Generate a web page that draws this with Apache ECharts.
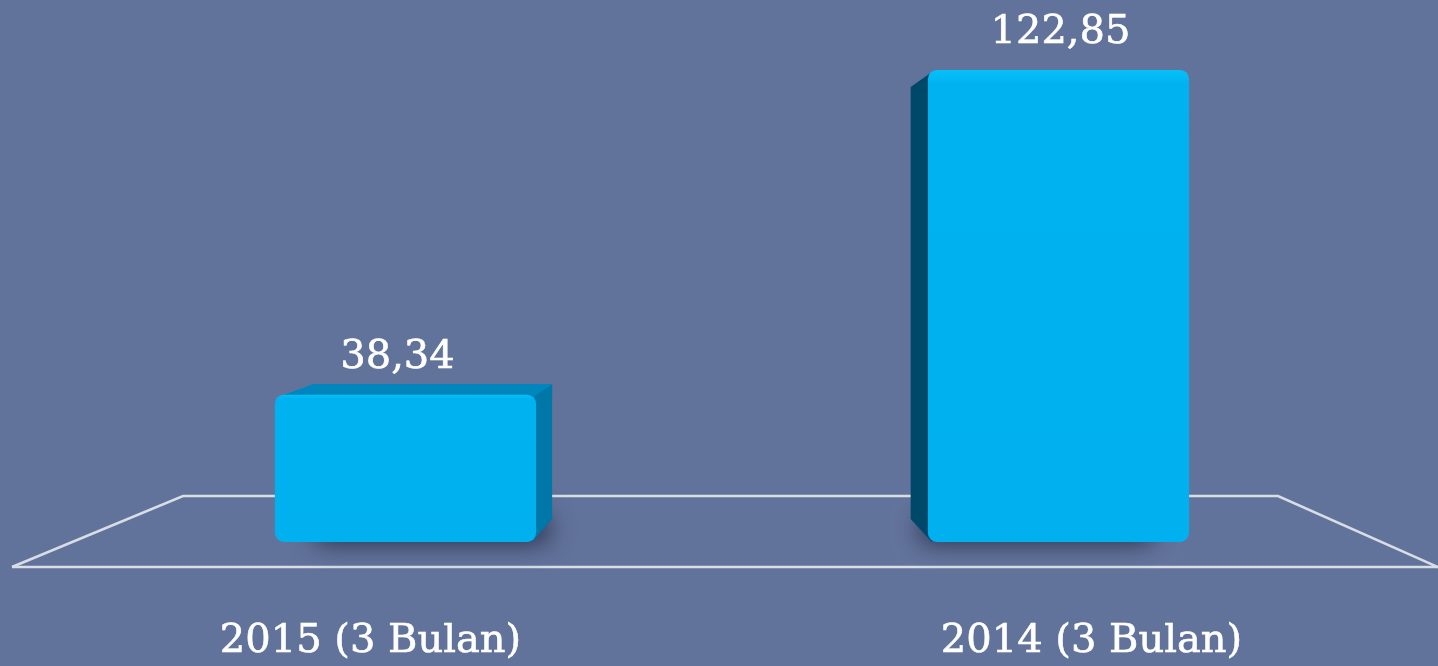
<!DOCTYPE html>
<html>
<head>
<meta charset="utf-8">
<script src="https://cdn.jsdelivr.net/npm/echarts@6/dist/echarts.min.js"></script>
<style>
html,body{margin:0;padding:0;background:#62739b;}
#c{width:1438px;height:666px;}
</style>
</head>
<body>
<div id="c"></div>
<script>
const categories = ['2015 (3 Bulan)', '2014 (3 Bulan)'];
const values = [38.34, 122.85];

const chart = echarts.init(document.getElementById('c'));
const VX = 725, VY = 270, F = 0.085;
function proj(x, y) { return [x + (VX - x) * F, y + (VY - y) * F]; }
function fmt(v) { return v.toFixed(2).replace('.', ','); }

function renderItem(params, api) {
  const idx = api.value(0), v = api.value(1);
  const top = api.coord([idx, v]);
  const base = api.coord([idx, 0]);
  const w = api.size([1, 0])[0] * 0.4;
  const x0 = top[0] - w / 2, x1 = top[0] + w / 2, yT = top[1], yB = base[1];
  const children = [];
  const leftSide = x0 > VX;
  // soft shadow (rect hidden behind the bar, only its blur halo shows)
  children.push({
    type: 'rect',
    shape: { x: x0 + 14, y: yB - 30, width: w - 28, height: 26, r: 8 },
    style: {
      fill: 'rgba(35,40,66,0.9)', shadowBlur: 26, shadowColor: 'rgba(28,32,58,1)',
      shadowOffsetX: leftSide ? -22 : 26, shadowOffsetY: 4
    }
  });
  // side face
  if (x1 < VX) {
    const a = proj(x1, yT), b = proj(x1, yB);
    children.push({ type: 'polygon', shape: { points: [[x1 - 4, yT + 2], a, b, [x1 - 4, yB]] }, style: { fill: '#0077a7' } });
  } else if (leftSide) {
    const a = proj(x0, yT), b = proj(x0, yB);
    children.push({ type: 'polygon', shape: { points: [[x0 + 4, yT + 2], a, b, [x0 + 4, yB]] }, style: { fill: '#00486a' } });
  }
  // top face
  if (yT > VY) {
    const a = proj(x0, yT), b = proj(x1, yT);
    children.push({ type: 'polygon', shape: { points: [[x0 + 4, yT + 2], a, b, [x1 - 2, yT + 2]] }, style: { fill: '#0086bd' } });
  }
  // front face
  children.push({
    type: 'rect',
    shape: { x: x0, y: yT, width: w, height: yB - yT, r: 9 },
    style: {
      fill: new echarts.graphic.LinearGradient(0, 0, 0, 1, [
        { offset: 0, color: '#06c0f8' }, { offset: 0.03, color: '#00b2f0' }, { offset: 1, color: '#00b0ef' }
      ])
    }
  });
  // value label (centred over the front face, nudged toward the visible depth)
  children.push({
    type: 'text',
    style: {
      text: fmt(v), x: top[0] + (leftSide ? 2 : -8), y: yT - 17, align: 'center', verticalAlign: 'bottom',
      fill: '#ffffff', font: '40px "DejaVu Serif"', stroke: '#ffffff', lineWidth: 0.6
    }
  });
  return { type: 'group', children };
}

chart.setOption({
  backgroundColor: '#62739b',
  animation: false,
  grid: { left: 79, right: 53, top: 4, bottom: 124 },
  xAxis: {
    type: 'category',
    data: categories,
    axisLine: { show: false }, axisTick: { show: false }, splitLine: { show: false },
    axisLabel: {
      margin: 80,
      color: '#ffffff',
      fontFamily: 'DejaVu Serif',
      fontSize: 40,
      formatter: function (val, i) { return i === 0 ? '{a|' + val + '}' : '{b|' + val + '}'; },
      rich: {
        a: { color: '#ffffff', fontFamily: 'DejaVu Serif', fontSize: 40, padding: [0, 70, 0, 0], textBorderColor: '#ffffff', textBorderWidth: 0.6 },
        b: { color: '#ffffff', fontFamily: 'DejaVu Serif', fontSize: 40, padding: [0, 0, 0, 66], textBorderColor: '#ffffff', textBorderWidth: 0.6 }
      }
    }
  },
  yAxis: { type: 'value', min: 0, max: 140, show: false, splitLine: { show: false } },
  graphic: [
    { type: 'polyline', z: 0, shape: { points: [[12, 567], [183, 496], [1278, 496], [1438, 567]] }, style: { stroke: '#d9dde6', lineWidth: 2.5, fill: null } },
    { type: 'line', z: 0, shape: { x1: 12, y1: 567, x2: 1438, y2: 567 }, style: { stroke: '#d9dde6', lineWidth: 2.5 } }
  ],
  series: [{
    type: 'custom',
    z: 5,
    renderItem: renderItem,
    encode: { x: 0, y: 1 },
    data: values.map((v, i) => [i, v])
  }]
});
</script>
</body>
</html>
